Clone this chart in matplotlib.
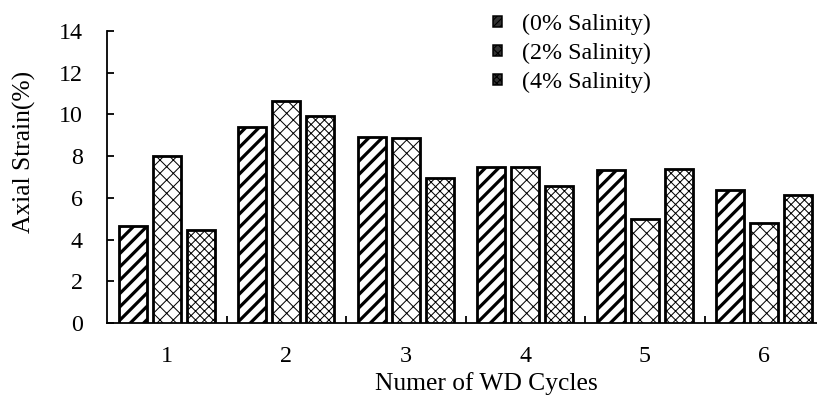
import matplotlib
matplotlib.use("Agg")
import matplotlib.pyplot as plt
import numpy as np

cycles = ["1", "2", "3", "4", "5", "6"]
salinity_0 = [4.66, 9.38, 8.90, 7.48, 7.33, 6.38]
salinity_2 = [8.02, 10.63, 8.85, 7.48, 4.99, 4.81]
salinity_4 = [4.44, 9.92, 6.95, 6.57, 7.40, 6.14]
series_labels = ["(0% Salinity)", "(2% Salinity)", "(4% Salinity)"]
yticks = [0, 2, 4, 6, 8, 10, 12, 14]

plt.rcParams['font.family'] = ['Liberation Serif', 'DejaVu Serif']

DPI = 80
W, H = 817, 401
def pt(px):
    return px * 72.0 / DPI

fig = plt.figure(figsize=(W / DPI, H / DPI), dpi=DPI)
ax = fig.add_axes([107/W, 78/H, 717/W, 292/H])

FS_TICK = pt(24)
FS_LAB = pt(25.5)
FS_LEG = pt(24)

x = np.arange(1, len(cycles) + 1)
pitch = 0.285
width = 0.234
hatches = ['//', 'xx', 'xxx']
hlw = [pt(3.2), pt(1.0), pt(1.0)]
series = [salinity_0, salinity_2, salinity_4]
handles = []
for i, (vals, h) in enumerate(zip(series, hatches)):
    bars = ax.bar(x + (i - 1) * pitch, vals, width, facecolor='white',
                  edgecolor='black', linewidth=pt(2.8), hatch=h,
                  label=series_labels[i], zorder=3)
    for b in bars:
        if hasattr(b, 'set_hatch_linewidth'):
            b.set_hatch_linewidth(hlw[i])
    handles.append(bars)

ax.set_xlim(0.5, 6.5)
ax.set_ylim(0, 14)
ax.set_yticks(yticks)
ax.set_xticks(np.arange(1.5, 6.5, 1.0))
ax.set_xticklabels([])
ax.set_xticks(x, minor=True)
ax.set_xticklabels(cycles, minor=True)
ax.tick_params(axis='x', which='major', direction='in', length=pt(7), width=pt(1.8))
ax.tick_params(axis='x', which='minor', length=0, pad=pt(23), labelsize=FS_TICK)
ax.tick_params(axis='y', direction='in', length=pt(7), width=pt(1.8), labelsize=FS_TICK, pad=pt(24))
for s in ['top', 'right']:
    ax.spines[s].set_visible(False)
for s in ['left', 'bottom']:
    ax.spines[s].set_linewidth(pt(1.8))

ax.set_ylabel("Axial Strain(%)", fontsize=FS_LAB, labelpad=pt(23))
ax.set_xlabel("Numer of WD Cycles", fontsize=FS_LAB, labelpad=pt(5))
ax.xaxis.label.set_x((486 - 107) / 717)
ax.yaxis.label.set_y((323 - 152) / 292)

leg = fig.legend(handles=handles, labels=series_labels, loc='upper left',
                 bbox_to_anchor=(493/W, 1 - 14/H), frameon=False,
                 fontsize=FS_LEG, handlelength=0.36, handleheight=0.36,
                 handletextpad=0.85, labelspacing=0.32, borderpad=0,
                 borderaxespad=0)
for p, h in zip(leg.get_patches(), ['////', 'xxx', 'xxxx']):
    p.set_linewidth(pt(1.5))
    p.set_hatch(h)
    p.set_facecolor('#333333')

fig.savefig("out.png", dpi=DPI)
